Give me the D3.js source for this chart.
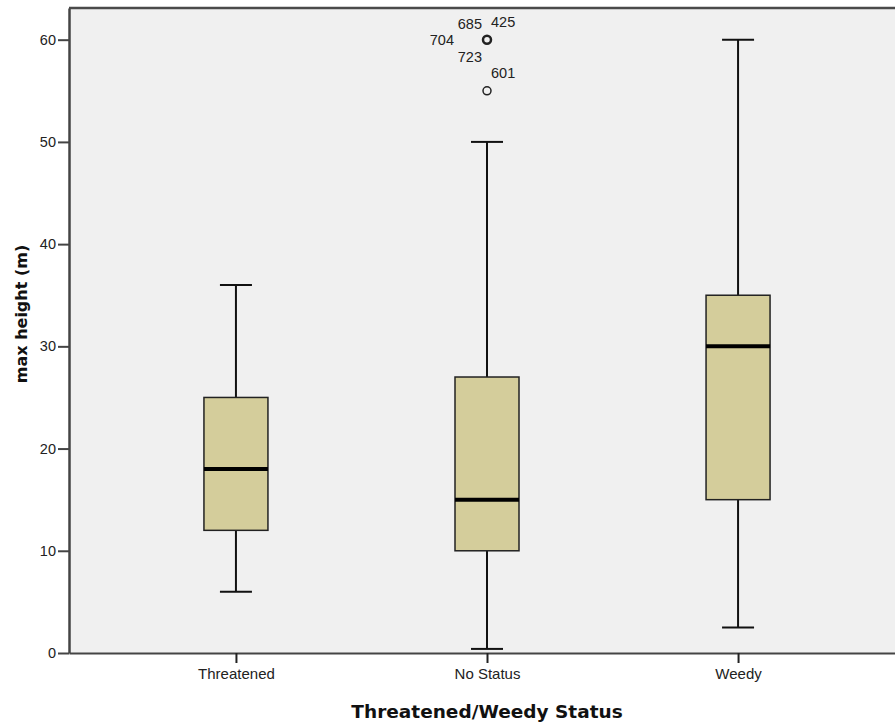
<!DOCTYPE html>
<html>
<head>
<meta charset="utf-8">
<script src="https://cdn.jsdelivr.net/npm/d3@7"></script>
<style>
  body { margin: 0; background: #fff; }
  svg { display: block; font-family: "Liberation Sans", Arial, sans-serif; }
</style>
</head>
<body>
<div id="chart"></div>
<script>
// data
const categories = ['Threatened', 'No Status', 'Weedy'];
const whiskerLow = [6, 0.4, 2.5];
const q1 = [12, 10, 15];
const median = [18, 15, 30];
const q3 = [25, 27, 35];
const whiskerHigh = [36, 50, 60];
const outlierCategory = ['No Status', 'No Status'];
const outlierValue = [60, 55];
const outlierLabels = [['685', '425', '704', '723'], ['601']];
const yTicks = [0, 10, 20, 30, 40, 50, 60];

const width = 895, height = 724;
const margin = { top: 8, right: 0, bottom: 71, left: 69 };
const innerW = width - margin.left - margin.right;
const innerH = height - margin.top - margin.bottom;

const svg = d3.select('#chart').append('svg')
  .attr('width', width)
  .attr('height', height);

const g = svg.append('g')
  .attr('transform', `translate(${margin.left},${margin.top})`);

const x = d3.scalePoint()
  .domain(categories)
  .range([0, innerW + 10])
  .padding(0.665);

const y = d3.scaleLinear()
  .domain([0, 63.1])
  .range([innerH, 0]);

// plot background
g.append('rect')
  .attr('width', innerW)
  .attr('height', innerH)
  .attr('fill', '#f0f0f0');

// top frame line
g.append('line')
  .attr('x1', 0).attr('x2', innerW)
  .attr('y1', 0).attr('y2', 0)
  .attr('stroke', '#4a4a4a')
  .attr('stroke-width', 2.5);

const boxW = 64, capW = 32;

const stats = categories.map((c, i) => ({
  c, lo: whiskerLow[i], q1: q1[i], med: median[i], q3: q3[i], hi: whiskerHigh[i]
}));

const box = g.selectAll('.box')
  .data(stats)
  .enter().append('g')
  .attr('class', 'box')
  .attr('transform', d => `translate(${x(d.c)},0)`);

// whiskers
box.append('line')
  .attr('x1', 0).attr('x2', 0)
  .attr('y1', d => y(d.hi)).attr('y2', d => y(d.q3))
  .attr('stroke', '#111').attr('stroke-width', 2);
box.append('line')
  .attr('x1', 0).attr('x2', 0)
  .attr('y1', d => y(d.q1)).attr('y2', d => y(d.lo))
  .attr('stroke', '#111').attr('stroke-width', 2);
box.selectAll('.cap')
  .data(d => [d.lo, d.hi])
  .enter().append('line')
  .attr('class', 'cap')
  .attr('x1', -capW / 2).attr('x2', capW / 2)
  .attr('y1', v => y(v)).attr('y2', v => y(v))
  .attr('stroke', '#111').attr('stroke-width', 2);

// box
box.append('rect')
  .attr('x', -boxW / 2)
  .attr('width', boxW)
  .attr('y', d => y(d.q3))
  .attr('height', d => y(d.q1) - y(d.q3))
  .attr('fill', '#d4cd9b')
  .attr('stroke', '#222')
  .attr('stroke-width', 1.5);

// median
box.append('line')
  .attr('x1', -boxW / 2).attr('x2', boxW / 2)
  .attr('y1', d => y(d.med)).attr('y2', d => y(d.med))
  .attr('stroke', '#000').attr('stroke-width', 4);

// outliers
outlierValue.forEach((v, i) => {
  const cx = x(outlierCategory[i]);
  const cy = y(v);
  const stacked = outlierLabels[i].length > 1;
  g.append('circle')
    .attr('cx', cx).attr('cy', cy).attr('r', 4)
    .attr('fill', 'none')
    .attr('stroke', '#222')
    .attr('stroke-width', stacked ? 2.5 : 1.5);
});

// outlier ID labels, spread around the point like SPSS does
const labelOffsets = [[-5, -11, 'end'], [4, -13, 'start'], [-33, 5, 'end'], [-5, 22, 'end']];
outlierValue.forEach((v, i) => {
  const cx = x(outlierCategory[i]);
  const cy = y(v);
  outlierLabels[i].forEach((lab, j) => {
    const off = outlierLabels[i].length === 1 ? [4, -13, 'start'] : labelOffsets[j];
    g.append('text')
      .attr('x', cx + off[0])
      .attr('y', cy + off[1])
      .attr('text-anchor', off[2])
      .attr('font-size', 14.5)
      .attr('fill', '#222')
      .text(lab);
  });
});

// y axis
const yAxis = g.append('g')
  .call(d3.axisLeft(y).tickValues(yTicks).tickSize(11).tickSizeOuter(0).tickPadding(2));
yAxis.select('.domain').attr('stroke', '#444').attr('stroke-width', 2.5);
yAxis.selectAll('.tick line').attr('stroke', '#444').attr('stroke-width', 2);
yAxis.selectAll('.tick text')
  .attr('font-size', 14.5)
  .attr('font-family', '"Liberation Sans", Arial, sans-serif')
  .attr('fill', '#222');

// x axis
const xAxis = g.append('g')
  .attr('transform', `translate(0,${innerH})`)
  .call(d3.axisBottom(x).tickSize(10).tickSizeOuter(0).tickPadding(5));
xAxis.select('.domain').attr('stroke', '#444').attr('stroke-width', 2);
xAxis.selectAll('.tick line').attr('stroke', '#222').attr('stroke-width', 2);
xAxis.selectAll('.tick text')
  .attr('font-size', 15)
  .attr('font-family', '"Liberation Sans", Arial, sans-serif')
  .attr('fill', '#222');

// axis titles
svg.append('text')
  .attr('x', margin.left + x('No Status'))
  .attr('y', 718)
  .attr('text-anchor', 'middle')
  .attr('font-family', '"DejaVu Sans", sans-serif')
  .attr('font-weight', 'bold')
  .attr('font-size', 18.5)
  .attr('fill', '#111')
  .text('Threatened/Weedy Status');

svg.append('text')
  .attr('transform', 'translate(27,314) rotate(-90)')
  .attr('text-anchor', 'middle')
  .attr('font-family', '"DejaVu Sans", sans-serif')
  .attr('font-weight', 'bold')
  .attr('font-size', 16)
  .attr('fill', '#111')
  .text('max height (m)');
</script>
</body>
</html>
